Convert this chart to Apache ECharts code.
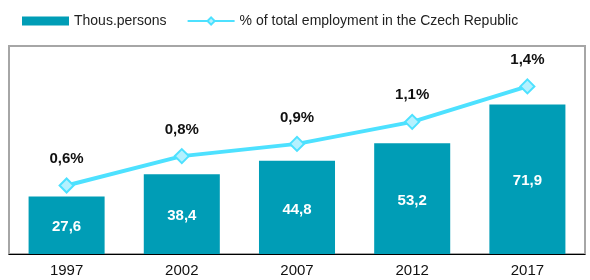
<!DOCTYPE html>
<html>
<head>
<meta charset="utf-8">
<script src="https://cdn.jsdelivr.net/npm/echarts@6/dist/echarts.min.js"></script>
<style>
  html, body { margin: 0; padding: 0; background: #fff; }
  #main { width: 590px; height: 280px; }
</style>
</head>
<body>
<div id="main"></div>
<script>
var years = ['1997', '2002', '2007', '2012', '2017'];
var thousPersons = [27.6, 38.4, 44.8, 53.2, 71.9];
var shareOfEmployment = [0.56, 0.80, 0.90, 1.08, 1.37];

var comma = function (v, d) { return v.toFixed(d).replace('.', ','); };

var myChart = echarts.init(document.getElementById('main'));
var option = {
    animation: false,
    textStyle: { fontFamily: 'Liberation Sans, Arial, sans-serif' },
    legend: {
        left: 17,
        top: 9,
        itemWidth: 47,
        itemHeight: 9,
        itemGap: 20,
        textStyle: { fontSize: 14, color: '#222' },
        data: [
            { name: 'Thous.persons', icon: 'rect' },
            { name: '% of total employment in the Czech Republic' }
        ]
    },
    grid: {
        left: 9, right: 5, top: 46, bottom: 26,
        show: true,
        borderColor: '#a6a6a6',
        borderWidth: 2
    },
    xAxis: {
        type: 'category',
        data: years,
        axisLine: { lineStyle: { color: '#000', width: 1 } },
        axisTick: { length: 5, lineStyle: { color: '#000' } },
        axisLabel: { fontSize: 15, color: '#111', margin: 9 }
    },
    yAxis: [{
        type: 'value', min: 0, max: 100, show: false,
        splitLine: { show: false }
    }, {
        type: 'value', min: 0, max: 1.7, show: false,
        splitLine: { show: false }
    }],
    series: [{
        name: 'Thous.persons',
        type: 'bar',
        barWidth: '66%',
        itemStyle: { color: '#009db6' },
        label: {
            show: true,
            position: 'inside',
            color: '#fff',
            fontWeight: 'bold',
            fontSize: 15,
            offset: [0, 2],
            formatter: function (p) { return comma(p.value, 1); }
        },
        data: thousPersons
    }, {
        name: '% of total employment in the Czech Republic',
        type: 'line',
        yAxisIndex: 1,
        symbol: 'diamond',
        symbolSize: 14,
        lineStyle: { color: '#4de1ff', width: 4 },
        itemStyle: { color: '#b4f1ff', borderColor: '#4de1ff', borderWidth: 2 },
        label: {
            show: true,
            position: 'top',
            distance: 11,
            color: '#111',
            fontWeight: 'bold',
            fontSize: 15,
            formatter: function (p) { return comma(p.value, 1) + '%'; }
        },
        data: shareOfEmployment
    }]
};
myChart.setOption(option);
</script>
</body>
</html>
